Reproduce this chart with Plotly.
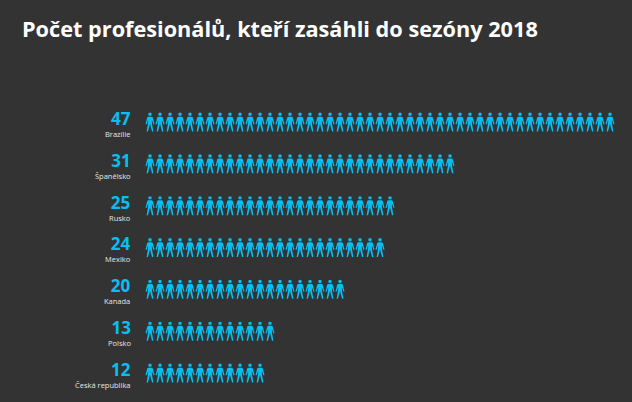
import plotly.graph_objects as go

title = "Počet profesionálů, kteří zasáhli do sezóny 2018"
countries = ["Brazílie", "Španělsko", "Rusko", "Mexiko", "Kanada", "Polsko", "Česká republika"]
players = [47, 31, 25, 24, 20, 13, 12]

BG = "#333333"
CYAN = "#08BFF2"
FONT = "Open Sans"
W, H = 632, 402
PX_X0, PITCH_X = 150, 10.0      # pixel centre of first icon, px per icon
PX_Y0, PITCH_Y = 122, 41.83     # pixel centre of first row, px per row

HEAD = [(0, 0), (1.3, .5), (1.8, 1.7), (1.3, 2.9), (0, 3.4), (-1.3, 2.9), (-1.8, 1.7), (-1.3, .5)]
BODY = [(-2.0, 4.2), (2.0, 4.2), (2.8, 5), (4.5, 11.6), (3.5, 11.9), (1.9, 7.4), (1.9, 10.5),
        (3.4, 19), (2.0, 19), (0, 11.2), (-2.0, 19), (-3.4, 19), (-1.9, 10.5), (-1.9, 7.4),
        (-3.5, 11.9), (-4.5, 11.6), (-2.8, 5)]

xs, ys = [], []
for row, n in enumerate(players):
    for i in range(n):
        for part in (HEAD, BODY):
            pts = part + part[:1]
            xs += [i + p[0] / PITCH_X for p in pts] + [None]
            ys += [row + (p[1] - 9.5) / PITCH_Y for p in pts] + [None]

fig = go.Figure(go.Scatter(x=xs, y=ys, mode="lines", fill="toself", fillcolor=CYAN,
                           line=dict(width=0, color=CYAN), hoverinfo="skip", showlegend=False))

label_x = -(PX_X0 - 131) / PITCH_X
annotations = []
for row, (c, n) in enumerate(zip(countries, players)):
    text = (f"<span style='font-size:17px;color:{CYAN}'><b>{n}</b></span><br>"
            f"<span style='font-size:7.5px;color:#E6E6E6'>{c}</span>")
    annotations.append(dict(x=label_x, y=row, xref="x", yref="y", text=text, showarrow=False,
                            xanchor="right", yanchor="middle", align="right", yshift=-1, xshift=2,
                            font=dict(family=FONT, size=9.5, color="#E6E6E6")))
annotations.append(dict(x=20 / W, y=1 - 29 / H, xref="paper", yref="paper", text=title, showarrow=False,
                        xanchor="left", yanchor="middle",
                        font=dict(family=FONT, size=21.7, color="#FFFFFF", weight=700)))

fig.update_layout(width=W, height=H, margin=dict(l=0, r=0, t=0, b=0), autosize=False,
                  paper_bgcolor=BG, plot_bgcolor=BG, annotations=annotations,
                  xaxis=dict(range=[-PX_X0 / PITCH_X, (W - PX_X0) / PITCH_X], visible=False, fixedrange=True),
                  yaxis=dict(range=[(H - PX_Y0) / PITCH_Y, -PX_Y0 / PITCH_Y], visible=False, fixedrange=True))
fig.write_html("out.html", config={"displayModeBar": False},
               post_script="document.body.style.margin='0';document.body.style.overflow='hidden';document.body.style.background='#333333';")
